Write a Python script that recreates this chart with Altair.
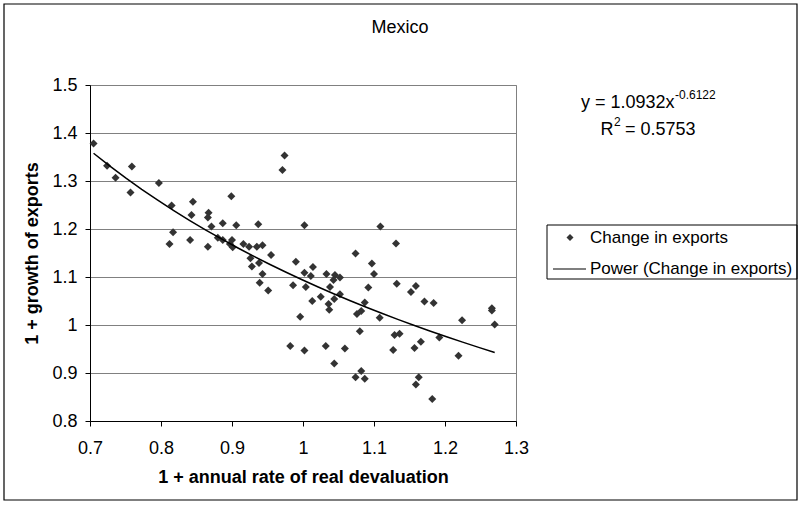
import altair as alt
import pandas as pd

# ---------------- data ----------------
x_vals = [0.705, 0.724, 0.736, 0.759, 0.757, 0.797, 0.815, 0.845, 0.843, 0.817,
          0.812, 0.841, 0.867, 0.866, 0.871, 0.866, 0.887, 0.880, 0.887, 0.899,
          0.906, 0.900, 0.897, 0.901, 0.916, 0.924, 0.935, 0.943, 0.955, 0.926,
          0.928, 0.938, 0.937, 0.974, 0.971, 1.002, 0.943, 0.939, 0.951, 0.990,
          1.014, 0.986, 1.002, 1.004, 1.011, 1.033, 1.045, 1.052, 1.038, 1.025,
          1.013, 1.036, 1.037, 1.044, 1.052, 0.996, 0.982, 1.002, 1.032, 1.059,
          1.044, 1.074, 1.097, 1.100, 1.092, 1.087, 1.082, 1.076, 1.080, 1.082,
          1.074, 1.087, 1.108, 1.109, 1.131, 1.132, 1.152, 1.159, 1.171, 1.184,
          1.266, 1.266, 1.224, 1.270, 1.129, 1.136, 1.127, 1.157, 1.166, 1.192,
          1.219, 1.163, 1.159, 1.182, 1.043]
y_vals = [1.378, 1.332, 1.307, 1.330, 1.276, 1.296, 1.249, 1.257, 1.229, 1.193,
          1.169, 1.177, 1.234, 1.224, 1.205, 1.163, 1.212, 1.182, 1.177, 1.268,
          1.208, 1.177, 1.169, 1.162, 1.169, 1.163, 1.163, 1.166, 1.146, 1.139,
          1.122, 1.129, 1.210, 1.353, 1.323, 1.208, 1.106, 1.088, 1.072, 1.132,
          1.121, 1.083, 1.109, 1.079, 1.102, 1.106, 1.104, 1.099, 1.079, 1.059,
          1.050, 1.044, 1.032, 1.054, 1.064, 1.017, 0.956, 0.947, 0.956, 0.951,
          0.920, 1.149, 1.128, 1.106, 1.078, 1.047, 1.029, 1.023, 0.987, 0.904,
          0.891, 0.888, 1.015, 1.205, 1.170, 1.086, 1.069, 1.081, 1.049, 1.046,
          1.035, 1.030, 1.010, 1.001, 0.979, 0.982, 0.948, 0.952, 0.965, 0.974,
          0.936, 0.891, 0.876, 0.846, 1.094]

series_names = ["Change in exports", "Power (Change in exports)"]
x_ticks = [0.7, 0.8, 0.9, 1.0, 1.1, 1.2, 1.3]
y_ticks = [0.8, 0.9, 1.0, 1.1, 1.2, 1.3, 1.4, 1.5]
x_domain = [0.7, 1.3]
y_domain = [0.8, 1.5]
chart_title = ["Mexico"]
x_title = "1 + annual rate of real devaluation"
y_title = "1 + growth of exports"
eq_main = ["y = 1.0932x"]
eq_exp = ["-0.6122"]
r2_base = ["R"]
r2_exp = ["2"]
r2_rest = ["= 0.5753"]

# ---------------- chart ----------------
FONT = "Liberation Sans"
FS = 18
LFS = 17
W, H = 426, 336

df = pd.DataFrame({"x": x_vals, "y": y_vals, "series": series_names[0]})

xscale = alt.Scale(domain=x_domain, nice=False, zero=False)
yscale = alt.Scale(domain=y_domain, nice=False, zero=False)

x_axis = alt.Axis(values=x_ticks, format=".1~f", grid=False, title=x_title,
                  titleFont=FONT, titleFontSize=FS, titleFontWeight="bold",
                  titleColor="black", titlePadding=11,
                  labelFont=FONT, labelFontSize=FS, labelColor="black",
                  labelPadding=13, tickSize=5, tickColor="black",
                  domainColor="black", labelFlush=False)
y_axis = alt.Axis(values=y_ticks, format=".1~f", grid=True, gridColor="#808080",
                  gridWidth=1, title=y_title, titleFont=FONT, titleFontSize=FS,
                  titleFontWeight="bold", titleColor="black", titlePadding=10,
                  labelFont=FONT, labelFontSize=FS, labelColor="black",
                  labelPadding=8, tickSize=5, tickColor="black",
                  domainColor="black", labelFlush=False)

X = alt.X("x:Q", scale=xscale, axis=x_axis)
Y = alt.Y("y:Q", scale=yscale, axis=y_axis)

# legend entry 1: the diamonds
legend_pts = alt.Legend(
    title=None, orient="none", legendX=457, legendY=144,
    direction="vertical", padding=0,
    symbolSize=49, symbolOffset=14.5, labelOffset=11.5,
    symbolFillColor="#333333", symbolStrokeWidth=0, symbolOpacity=1,
    labelFont=FONT, labelFontSize=LFS, labelColor="black", labelLimit=400,
)
# legend entry 2: the power trend line
legend_line = alt.Legend(
    title=None, orient="none", legendX=457, legendY=166.5,
    direction="vertical", padding=0,
    symbolType="stroke", symbolSize=1089, symbolOffset=5, labelOffset=3,
    symbolStrokeColor="black", symbolStrokeWidth=1.2, symbolOpacity=1,
    labelFont=FONT, labelFontSize=LFS, labelColor="black", labelLimit=400,
)

points = alt.Chart(df).mark_point(filled=True, size=64, color="#333333",
                                  opacity=1).encode(
    x=X, y=Y,
    shape=alt.Shape("series:N",
                    scale=alt.Scale(domain=[series_names[0]], range=["diamond"]),
                    legend=legend_pts),
)

trend = alt.Chart(df).transform_regression(
    "x", "y", method="pow"
).transform_calculate(
    lname="'" + series_names[1] + "'"
).mark_line(strokeWidth=1.5).encode(
    x=X, y=Y,
    color=alt.Color("lname:N",
                    scale=alt.Scale(domain=[series_names[1]], range=["black"]),
                    legend=legend_line),
)

border = alt.Chart(pd.DataFrame({"k": [0]})).mark_rect(
    filled=False, stroke="black", strokeWidth=1.2, fill=None
).encode(x=alt.value(-86), x2=alt.value(707), y=alt.value(-81), y2=alt.value(415))

legend_box = alt.Chart(pd.DataFrame({"k": [0]})).mark_rect(
    filled=False, stroke="black", strokeWidth=1, fill=None
).encode(x=alt.value(457), x2=alt.value(707), y=alt.value(140), y2=alt.value(194))


def txt(values, x, y, align, size=FS, dy=0):
    return alt.Chart(pd.DataFrame({"t": values})).mark_text(
        font=FONT, fontSize=size, color="black", align=align,
        baseline="middle", dy=dy
    ).encode(text="t:N", x=alt.value(x), y=alt.value(y))


annot = (txt(chart_title, 310, -57, "center")
         + txt(eq_main, 584.6, 18, "right")
         + txt(eq_exp, 585, 18, "left", size=12, dy=-8)
         + txt(r2_base, 523.4, 45, "right")
         + txt(r2_exp, 524, 45, "left", size=12, dy=-8)
         + txt(r2_rest, 535, 45, "left"))

chart = alt.layer(border, legend_box, points, trend, annot).resolve_legend(
    shape="independent", color="independent"
).properties(
    width=W, height=H,
    autosize=alt.AutoSizeParams(type="none"),
    padding={"left": 90, "top": 85, "right": 286, "bottom": 86},
    background="white",
).configure_view(stroke="#808080", strokeWidth=1)

chart.save("out.html", embed_options={"renderer": "svg", "actions": False})
